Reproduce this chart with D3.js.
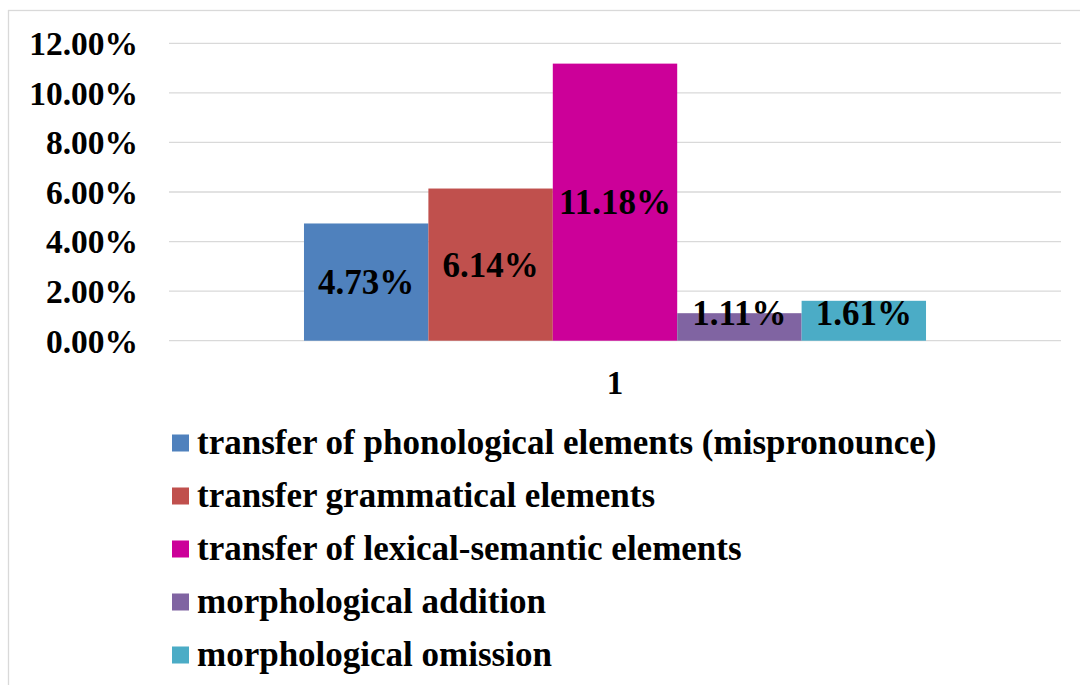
<!DOCTYPE html>
<html>
<head>
<meta charset="utf-8">
<script src="https://cdn.jsdelivr.net/npm/d3@7"></script>
<style>
  body { margin: 0; background: #fff; }
  svg text { font-family: "Liberation Serif", "Times New Roman", serif; font-weight: bold; }
</style>
</head>
<body>
<div id="chart"></div>
<script>
// Chart data
const categories = ["1"];
const seriesNames = [
    "transfer of phonological elements (mispronounce)",
    "transfer grammatical elements",
    "transfer of lexical-semantic elements",
    "morphological addition",
    "morphological omission"
];
const seriesValues = [4.73, 6.14, 11.18, 1.11, 1.61];
const seriesColors = ["#4f81bd", "#c0504d", "#cc0099", "#8064a2", "#4bacc6"];
const yTicks = [0, 2, 4, 6, 8, 10, 12];

const W = 1080, H = 685;
const FONT = "Liberation Serif, Times New Roman, serif";

const svg = d3.select("#chart").append("svg")
    .attr("width", W)
    .attr("height", H);

// outer frame
svg.append("rect")
    .attr("x", 8.5).attr("y", 10.5)
    .attr("width", W).attr("height", H)
    .attr("fill", "none")
    .attr("stroke", "#d9d9d9")
    .attr("stroke-width", 1.3);

const plot = { left: 169, right: 1061, top: 43.3, bottom: 340.7 };

const yScale = d3.scaleLinear()
    .domain([0, 12])
    .range([plot.bottom, plot.top]);

const xCat = d3.scaleBand()
    .domain(categories)
    .range([plot.left, plot.right])
    .paddingInner(0)
    .paddingOuter(0.217);

const xSeries = d3.scaleBand()
    .domain(seriesNames)
    .range([0, xCat.bandwidth()])
    .padding(0);

// gridlines
svg.append("g")
    .selectAll("line")
    .data(yTicks)
    .enter()
    .append("line")
    .attr("x1", plot.left).attr("x2", plot.right)
    .attr("y1", d => yScale(d)).attr("y2", d => yScale(d))
    .attr("stroke", "#d9d9d9")
    .attr("stroke-width", 1.3);

// y axis labels
const yAxis = svg.append("g")
    .attr("transform", `translate(${plot.left}, 0)`)
    .call(d3.axisLeft(yScale).tickValues(yTicks).tickSize(0).tickPadding(31)
        .tickFormat(d => d.toFixed(2) + "%"));
yAxis.attr("font-family", FONT);
yAxis.select(".domain").remove();
yAxis.selectAll("text")
    .attr("font-family", FONT)
    .attr("font-weight", "bold")
    .attr("font-size", "33.5px")
    .attr("fill", "#000")
    .attr("dy", "0.34em");

// bars
const catGroup = svg.selectAll("g.cat")
    .data(categories)
    .enter()
    .append("g")
    .attr("class", "cat")
    .attr("transform", d => `translate(${xCat(d)}, 0)`);

const rows = seriesNames.map((name, i) => ({ name, value: seriesValues[i], color: seriesColors[i] }));

catGroup.selectAll("rect")
    .data(rows)
    .enter()
    .append("rect")
    .attr("x", d => xSeries(d.name))
    .attr("y", d => yScale(d.value))
    .attr("width", xSeries.bandwidth())
    .attr("height", d => yScale(0) - yScale(d.value))
    .attr("fill", d => d.color);

// data labels, centred in the bar but kept clear of the baseline
catGroup.selectAll("text.lbl")
    .data(rows)
    .enter()
    .append("text")
    .attr("class", "lbl")
    .attr("x", d => xSeries(d.name) + xSeries.bandwidth() / 2)
    .attr("y", d => Math.min((yScale(d.value) + yScale(0)) / 2, yScale(0) - 28))
    .attr("dy", "0.35em")
    .attr("text-anchor", "middle")
    .attr("font-family", FONT)
    .attr("font-weight", "bold")
    .attr("font-size", "35px")
    .attr("fill", "#000")
    .text(d => d.value.toFixed(2) + "%");

// category label
const xAxis = svg.append("g")
    .attr("transform", `translate(0, ${plot.bottom})`)
    .call(d3.axisBottom(xCat).tickSize(0).tickPadding(30));
xAxis.attr("font-family", FONT);
xAxis.select(".domain").remove();
xAxis.selectAll("text")
    .attr("font-family", FONT)
    .attr("font-weight", "bold")
    .attr("font-size", "33px")
    .attr("fill", "#000");

// legend
const legend = svg.append("g")
    .attr("transform", "translate(172, 443)");

const item = legend.selectAll("g")
    .data(rows)
    .enter()
    .append("g")
    .attr("transform", (d, i) => `translate(0, ${i * 53})`);

item.append("rect")
    .attr("x", 0).attr("y", -8.5)
    .attr("width", 17).attr("height", 17)
    .attr("fill", d => d.color);

item.append("text")
    .attr("x", 25)
    .attr("y", 11)
    .attr("font-family", FONT)
    .attr("font-weight", "bold")
    .attr("font-size", "35px")
    .attr("fill", "#000")
    .text(d => d.name);
</script>
</body>
</html>
